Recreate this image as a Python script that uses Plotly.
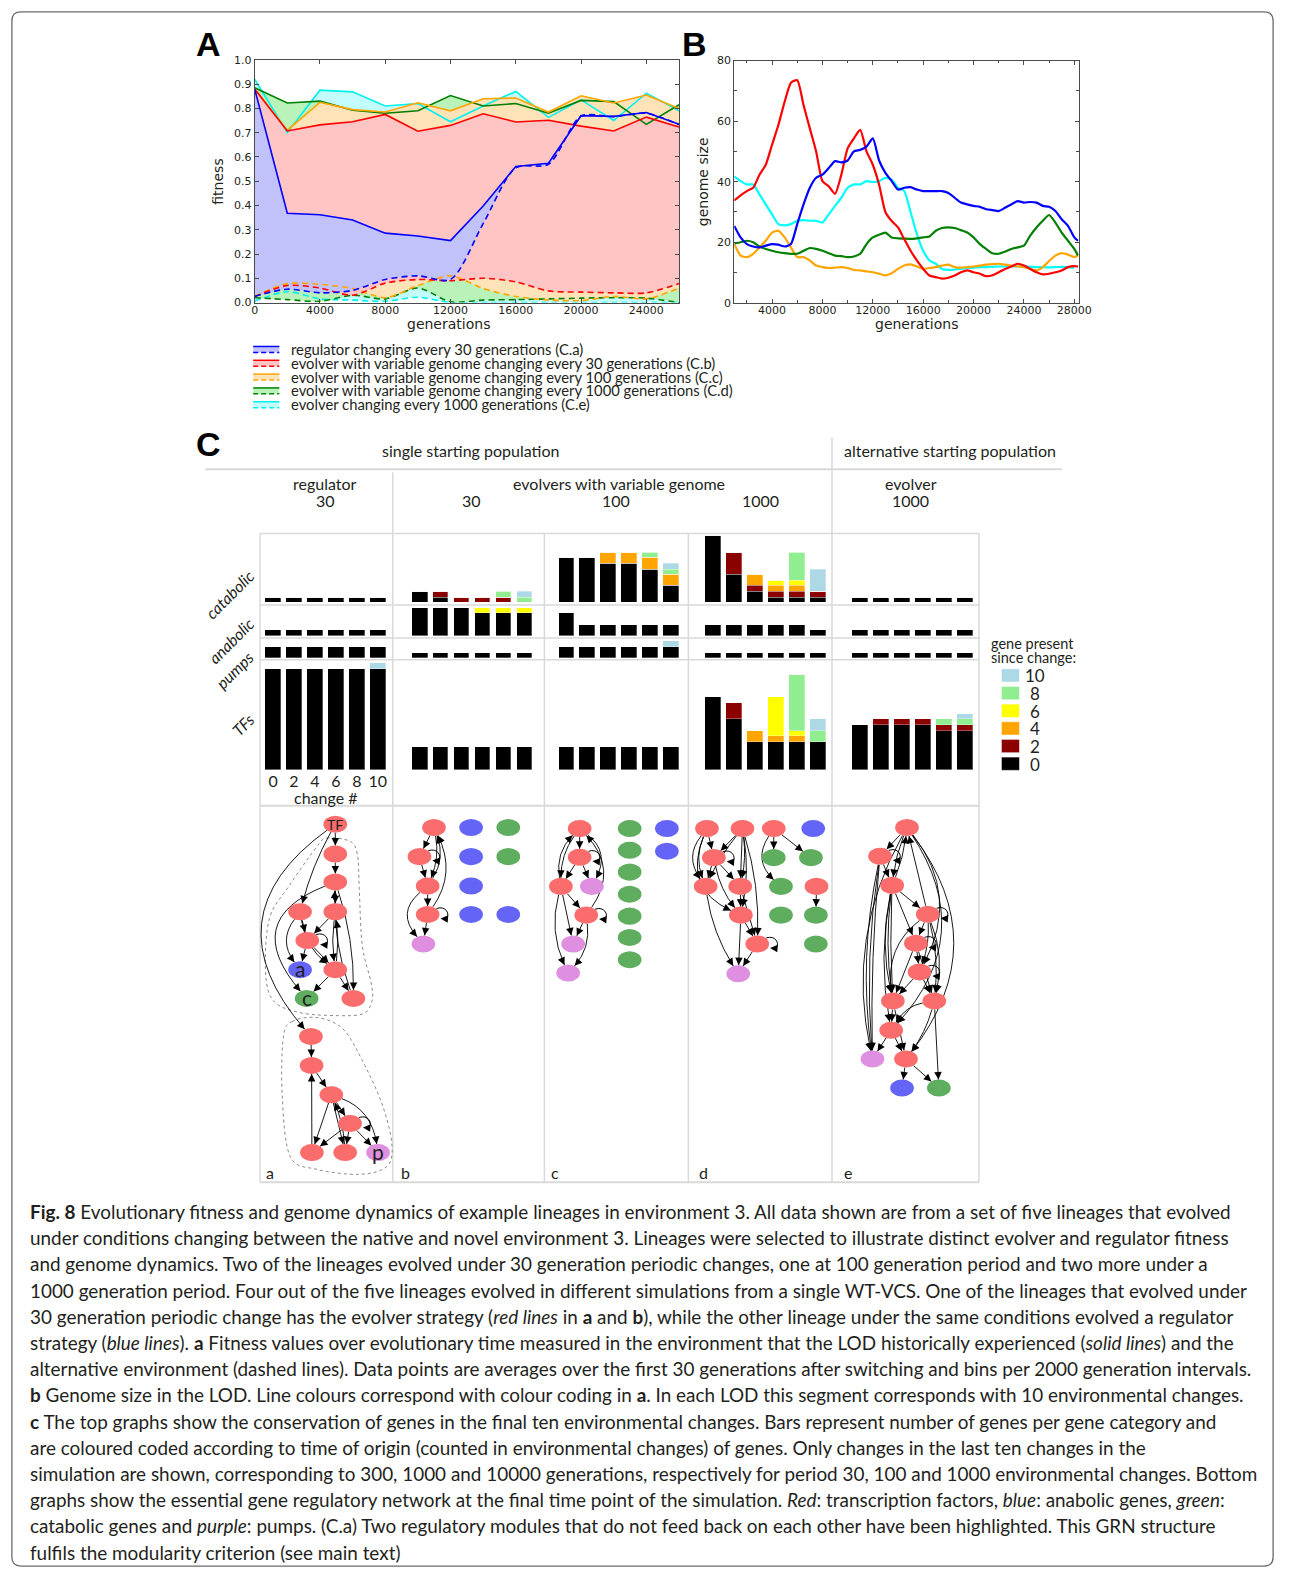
import math
import plotly.graph_objects as go

W, H = 1294, 1579


def PX(x):
    return x / W


def PY(y):
    return 1.0 - y / H


# ---------------- Panel A data (fitness) ----------------
gen_a = [0, 2000, 4000, 6000, 8000, 10000, 12000, 14000, 16000, 18000, 20000, 22000, 24000, 26000]
fit_reg30_env = [0.88, 0.368, 0.362, 0.34, 0.286, 0.274, 0.255, 0.398, 0.561, 0.574, 0.77, 0.767, 0.783, 0.735]
fit_reg30_alt = [0.025, 0.055, 0.04, 0.05, 0.095, 0.11, 0.095, 0.325, 0.555, 0.57, 0.768, 0.766, 0.78, 0.733]
fit_ev30_env = [0.88, 0.707, 0.732, 0.745, 0.775, 0.706, 0.73, 0.778, 0.744, 0.751, 0.727, 0.707, 0.764, 0.723]
fit_ev30_alt = [0.025, 0.07, 0.06, 0.03, 0.08, 0.095, 0.09, 0.1, 0.085, 0.048, 0.043, 0.04, 0.04, 0.078]
fit_ev100_env = [0.88, 0.71, 0.825, 0.795, 0.785, 0.823, 0.79, 0.84, 0.843, 0.785, 0.852, 0.822, 0.855, 0.8]
fit_ev100_alt = [0.025, 0.078, 0.075, 0.058, 0.02, 0.07, 0.11, 0.058, 0.025, 0.01, 0.008, 0.025, 0.015, 0.06]
fit_ev1000_env = [0.885, 0.822, 0.83, 0.792, 0.78, 0.79, 0.853, 0.81, 0.82, 0.78, 0.833, 0.828, 0.734, 0.815]
fit_ev1000_alt = [0.02, 0.012, 0.005, 0.03, 0.015, 0.06, 0.003, 0.01, 0.012, 0.015, 0.018, 0.02, 0.018, 0.0]
fit_evo1000_env = [0.92, 0.70, 0.875, 0.868, 0.81, 0.82, 0.745, 0.81, 0.87, 0.763, 0.835, 0.75, 0.863, 0.79]
fit_evo1000_alt = [0.005, 0.045, 0.015, 0.01, 0.005, 0.022, 0.0, 0.0, 0.0, 0.0, 0.0, 0.0, 0.0, 0.0]

legend_labels = [
    "regulator changing every 30 generations (C.a)",
    "evolver with variable genome changing every 30 generations (C.b)",
    "evolver with variable genome changing every 100 generations (C.c)",
    "evolver with variable genome changing every 1000 generations (C.d)",
    "evolver changing every 1000 generations (C.e)",
]

# ---------------- Panel B data (genome size) ----------------
gen_b = [1000, 1500, 2000, 2500, 3000, 3500, 4000, 4500, 5000, 5500,
         6000, 6500, 7000, 7500, 8000, 8500, 9000, 9500, 10000, 10500,
         11000, 11500, 12000, 12500, 13000, 13500, 14000, 14500, 15000, 15500,
         16000, 16500, 17000, 17500, 18000, 18500, 19000, 19500, 20000, 20500,
         21000, 21500, 22000, 22500, 23000, 23500, 24000, 24500, 25000, 25500,
         26000, 26500, 27000, 27500, 28000, 28300]
size_reg30 = [25.4, 21.6, 19.4, 18.6, 18.3, 18.9, 19.4, 19.2, 18.6, 19.4,
              26.0, 32.5, 38.0, 41.3, 42.3, 44.5, 46.8, 46.4, 47.0, 50.0,
              50.5, 51.6, 54.3, 47.0, 42.9, 40.2, 37.4, 38.0, 38.2, 37.4,
              36.9, 36.9, 36.9, 36.9, 36.3, 34.7, 33.1, 32.5, 32.0, 31.7,
              30.9, 30.6, 30.3, 31.4, 32.5, 33.6, 33.1, 33.3, 33.1, 32.0,
              31.7, 30.3, 27.6, 25.4, 21.6, 20.5]
size_ev30 = [33.8, 35.5, 36.9, 38.0, 42.3, 45.6, 52.2, 58.7, 66.4, 72.7,
             73.5, 65.3, 57.6, 50.0, 40.2, 38.5, 36.0, 42.3, 51.0, 54.3,
             57.1, 50.0, 45.6, 39.0, 30.0, 27.0, 24.9, 21.0, 17.2, 14.0,
             11.2, 9.0, 8.5, 8.0, 8.3, 9.0, 10.1, 10.7, 10.1, 9.6,
             8.8, 9.1, 10.1, 11.2, 12.0, 12.9, 12.3, 11.2, 10.1, 9.4,
             9.6, 10.1, 10.7, 11.8, 12.1, 12.0]
size_ev100 = [19.4, 15.6, 15.1, 16.2, 18.3, 20.5, 23.2, 23.8, 21.6, 18.3,
              15.1, 15.1, 14.0, 12.3, 11.8, 11.5, 11.6, 11.8, 11.5, 10.9,
              10.7, 10.4, 10.1, 9.6, 9.1, 9.8, 11.2, 12.3, 12.7, 12.0,
              11.2, 11.5, 11.8, 12.3, 12.6, 11.8, 11.6, 11.8, 12.0, 12.3,
              12.6, 12.8, 12.9, 12.6, 12.3, 12.0, 11.8, 11.2, 10.7, 11.8,
              13.8, 15.6, 16.4, 15.9, 15.1, 15.6]
size_ev1000 = [19.6, 20.0, 20.5, 20.0, 18.6, 17.8, 17.2, 16.7, 16.4, 16.2,
               16.2, 17.2, 18.1, 17.8, 17.2, 16.4, 15.6, 15.4, 15.1, 15.3,
               16.2, 19.4, 21.6, 22.5, 23.2, 21.6, 21.3, 21.2, 21.1, 21.3,
               21.6, 21.9, 23.8, 24.7, 24.9, 24.7, 24.0, 23.2, 21.6, 19.4,
               17.8, 16.4, 16.2, 16.9, 17.8, 18.3, 18.9, 22.2, 24.9, 27.1,
               29.0, 26.5, 23.2, 20.5, 17.8, 15.6]
size_evo1000 = [41.8, 40.2, 39.1, 39.1, 35.8, 32.5, 29.2, 26.0, 25.6, 26.0,
                27.1, 27.3, 27.1, 27.1, 26.5, 29.2, 32.0, 34.7, 38.0, 39.1,
                39.1, 40.2, 39.9, 40.2, 41.3, 40.7, 38.0, 36.9, 30.0, 22.7,
                17.2, 14.0, 12.9, 11.2, 10.9, 11.0, 11.2, 11.5, 11.6, 11.8,
                11.8, 11.9, 12.0, 12.0, 12.0, 12.0, 12.0, 11.9, 11.8, 11.8,
                11.7, 11.8, 11.9, 11.8, 11.6, None]

# ---------------- Panel C bar data (genes per category, 5 lineages x 6 changes) ----------------
lineage_groups = ["regulator 30", "evolver 30", "evolver 100", "evolver 1000", "evolver e 1000"]
change_ticks = ["0", "2", "4", "6", "8", "10"]
origin_classes = [0, 2, 4, 6, 8, 10]
origin_colors = {0: "#000000", 2: "#8b0000", 4: "#ffa500", 6: "#ffff00", 8: "#90ee90", 10: "#add8e6"}

catabolic = {
    0: [1, 1, 1, 1, 1, 1, 2, 1, 0, 0, 0, 0, 8, 8, 7, 7, 6, 3, 12, 5, 2, 1, 1, 1, 1, 1, 1, 1, 1, 1],
    2: [0, 0, 0, 0, 0, 0, 0, 1, 1, 1, 1, 0, 0, 0, 0, 0, 0, 0, 0, 4, 1, 1, 1, 1, 0, 0, 0, 0, 0, 0],
    4: [0, 0, 0, 0, 0, 0, 0, 0, 0, 0, 0, 0, 0, 0, 2, 2, 2, 2, 0, 0, 2, 1, 1, 0, 0, 0, 0, 0, 0, 0],
    6: [0, 0, 0, 0, 0, 0, 0, 0, 0, 0, 0, 0, 0, 0, 0, 0, 0, 0, 0, 0, 0, 1, 1, 0, 0, 0, 0, 0, 0, 0],
    8: [0, 0, 0, 0, 0, 0, 0, 0, 0, 0, 1, 1, 0, 0, 0, 0, 1, 1, 0, 0, 0, 0, 5, 0, 0, 0, 0, 0, 0, 0],
    10: [0, 0, 0, 0, 0, 0, 0, 0, 0, 0, 0, 1, 0, 0, 0, 0, 0, 1, 0, 0, 0, 0, 0, 4, 0, 0, 0, 0, 0, 0],
}
anabolic = {
    0: [1, 1, 1, 1, 1, 1, 5, 5, 5, 4, 4, 4, 4, 2, 2, 2, 2, 2, 2, 2, 2, 2, 2, 1, 1, 1, 1, 1, 1, 1],
    6: [0, 0, 0, 0, 0, 0, 0, 0, 0, 1, 1, 1, 0, 0, 0, 0, 0, 0, 0, 0, 0, 0, 0, 0, 0, 0, 0, 0, 0, 0],
}
pumps = {
    0: [2, 2, 2, 2, 2, 2, 1, 1, 1, 1, 1, 1, 2, 2, 2, 2, 2, 2, 1, 1, 1, 1, 1, 1, 1, 1, 1, 1, 1, 1],
    10: [0, 0, 0, 0, 0, 0, 0, 0, 0, 0, 0, 0, 0, 0, 0, 0, 0, 1, 0, 0, 0, 0, 0, 0, 0, 0, 0, 0, 0, 0],
}
tfs = {
    0: [18, 18, 18, 18, 18, 18, 4, 4, 4, 4, 4, 4, 4, 4, 4, 4, 4, 4, 13, 9, 5, 5, 5, 5, 8, 8, 8, 8, 7, 7],
    2: [0, 0, 0, 0, 0, 0, 0, 0, 0, 0, 0, 0, 0, 0, 0, 0, 0, 0, 0, 3, 0, 0, 0, 0, 0, 1, 1, 1, 1, 1],
    4: [0, 0, 0, 0, 0, 0, 0, 0, 0, 0, 0, 0, 0, 0, 0, 0, 0, 0, 0, 0, 2, 1, 1, 0, 0, 0, 0, 0, 0, 0],
    6: [0, 0, 0, 0, 0, 0, 0, 0, 0, 0, 0, 0, 0, 0, 0, 0, 0, 0, 0, 0, 0, 7, 1, 0, 0, 0, 0, 0, 0, 0],
    8: [0, 0, 0, 0, 0, 0, 0, 0, 0, 0, 0, 0, 0, 0, 0, 0, 0, 0, 0, 0, 0, 0, 10, 2, 0, 0, 0, 0, 1, 1],
    10: [0, 0, 0, 0, 0, 1, 0, 0, 0, 0, 0, 0, 0, 0, 0, 0, 0, 0, 0, 0, 0, 0, 0, 2, 0, 0, 0, 0, 0, 1],
}

# ---------------- Panel C networks (node layout in figure pixels) ----------------
node_colors = {"tf": "#fb6d6d", "ana": "#6464f7", "cat": "#5fad5f", "pump": "#df8fdf"}

net_a_nodes = {
    "TF": (335.7, 825.0, "tf", "TF"), "n2": (335.7, 855.0, "tf", ""), "n3": (335.7, 883.3, "tf", ""),
    "n4": (300.0, 913.3, "tf", ""), "n5": (335.7, 913.3, "tf", ""), "n6": (307.3, 942.3, "tf", ""),
    "a": (300.0, 971.7, "ana", "a"), "n7": (335.7, 971.7, "tf", ""), "c": (306.7, 1000.7, "cat", "c"),
    "n8": (354.0, 1000.7, "tf", ""), "m1": (311.0, 1039.0, "tf", ""), "m2": (311.7, 1068.3, "tf", ""),
    "m3": (331.7, 1097.7, "tf", ""), "m4": (350.7, 1126.7, "tf", ""), "m5": (312.0, 1156.0, "tf", ""),
    "m6": (345.7, 1156.0, "tf", ""), "p": (379.0, 1156.0, "pump", "p"),
}
net_a_edges = [
    ("TF", "n2", 0), ("n2", "n3", 0), ("n3", "n5", 0), ("TF", "n4", 6), ("n3", "c", 85), ("TF", "m1", 118),
    ("n4", "n6", 0), ("n5", "n6", 0), ("n6", "n6", 0), ("n4", "a", 22), ("n4", "n7", 14), ("n6", "a", 0),
    ("n6", "n7", 0), ("n5", "n7", 4), ("n7", "n5", 4), ("n7", "c", 0), ("n7", "n8", 0), ("n3", "n8", -10),
    ("n8", "n3", -12), ("m1", "m2", 0), ("m2", "m3", 0), ("m3", "m4", 0), ("m4", "m4", 0), ("m3", "m5", 0),
    ("m3", "m6", 0), ("m6", "m3", 5), ("m4", "m5", 0), ("m4", "m6", 0), ("m4", "p", 0), ("m3", "p", -22),
    ("m5", "m2", 0),
]
module_1_outline = [(327, 839), (350, 842), (358, 855), (360, 890), (363, 947), (372, 985), (373, 1003),
                    (364, 1016), (338, 1018), (300, 1015), (273, 1003), (265, 973), (269, 920),
                    (289, 887), (316, 849)]
module_2_outline = [(292, 1024), (317, 1020), (343, 1031), (363, 1063), (383, 1107), (393, 1147),
                    (388, 1170), (360, 1178), (317, 1173), (290, 1160), (282, 1100), (283, 1040)]

net_b_nodes = {
    "b1": (435.7, 828.3, "tf", ""), "b2": (473.3, 828.3, "ana", ""), "b3": (511.0, 828.3, "cat", ""),
    "b4": (421.0, 857.7, "tf", ""), "b5": (473.3, 857.7, "ana", ""), "b6": (511.0, 857.7, "cat", ""),
    "b7": (429.3, 887.3, "tf", ""), "b8": (473.3, 887.3, "ana", ""), "b9": (429.3, 916.0, "tf", ""),
    "b10": (473.3, 916.0, "ana", ""), "b11": (511.0, 916.0, "ana", ""), "b12": (425.0, 945.7, "pump", ""),
}
net_b_edges = [
    ("b1", "b4", 0), ("b1", "b7", -9), ("b7", "b1", 15), ("b4", "b7", 0), ("b4", "b4", 0),
    ("b7", "b9", 0), ("b9", "b1", 26), ("b9", "b9", 0), ("b9", "b12", 0), ("b7", "b12", 30),
]

net_c_nodes = {
    "c1": (583.3, 829.3, "tf", ""), "c4": (583.3, 858.3, "tf", ""), "c5": (564.3, 887.7, "tf", ""),
    "c6": (595.7, 887.7, "pump", ""), "c7": (590.0, 916.7, "tf", ""), "c8": (576.7, 945.7, "pump", ""),
    "c9": (571.7, 975.0, "pump", ""),
    "g1": (634.0, 829.3, "cat", ""), "g2": (634.0, 851.3, "cat", ""), "g3": (634.0, 873.3, "cat", ""),
    "g4": (634.0, 895.7, "cat", ""), "g5": (634.0, 917.7, "cat", ""), "g6": (634.0, 939.3, "cat", ""),
    "g7": (634.0, 961.7, "cat", ""), "k1": (671.7, 829.3, "ana", ""), "k2": (671.7, 852.3, "ana", ""),
}
net_c_edges = [
    ("c1", "c4", 0), ("c1", "c5", 10), ("c5", "c1", -16), ("c4", "c5", 0), ("c4", "c6", 0), ("c4", "c4", 0),
    ("c1", "c6", -25), ("c7", "c1", 36), ("c5", "c7", 0), ("c5", "c8", 0), ("c5", "c9", 16), ("c7", "c8", 0),
    ("c7", "c9", -14), ("c7", "c7", 0),
]

net_d_nodes = {
    "d1": (712.3, 829.3, "tf", ""), "d2": (748.3, 829.3, "tf", ""), "d3": (780.0, 829.3, "tf", ""),
    "d4": (820.0, 829.3, "ana", ""), "d5": (719.3, 858.7, "tf", ""), "d6": (780.0, 858.7, "cat", ""),
    "d7": (817.7, 858.7, "cat", ""), "d8": (711.0, 887.7, "tf", ""), "d9": (746.0, 887.7, "tf", ""),
    "d10": (787.3, 887.7, "cat", ""), "d11": (823.3, 887.7, "tf", ""), "d12": (746.7, 916.7, "tf", ""),
    "d13": (787.3, 916.7, "cat", ""), "d14": (822.7, 916.7, "cat", ""), "d15": (763.3, 945.7, "tf", ""),
    "d16": (822.7, 945.7, "cat", ""), "d17": (744.0, 975.7, "pump", ""),
}
net_d_edges = [
    ("d1", "d5", 0), ("d1", "d8", 12), ("d1", "d8", 22), ("d1", "d12", 45), ("d2", "d5", 0), ("d2", "d9", 0),
    ("d2", "d9", -5), ("d2", "d12", -8), ("d2", "d15", -10), ("d2", "d8", 4), ("d5", "d5", 0), ("d5", "d8", 0),
    ("d5", "d9", 0), ("d5", "d12", 8), ("d9", "d12", 0), ("d9", "d15", 0), ("d12", "d15", 0),
    ("d12", "d17", 0), ("d15", "d17", 0), ("d8", "d17", 10), ("d15", "d15", 0), ("d3", "d6", 0),
    ("d3", "d7", 0), ("d3", "d10", 25), ("d11", "d14", 0),
]

net_e_nodes = {
    "e1": (915.0, 828.3, "tf", ""), "e2": (887.7, 857.3, "tf", ""), "e3": (900.0, 886.7, "tf", ""),
    "e4": (936.0, 915.7, "tf", ""), "e5": (924.0, 945.0, "tf", ""), "e6": (927.7, 974.0, "tf", ""),
    "e7": (900.7, 1003.3, "tf", ""), "e8": (942.7, 1003.3, "tf", ""), "e9": (899.0, 1032.7, "tf", ""),
    "e10": (880.0, 1061.7, "pump", ""), "e11": (914.0, 1061.7, "tf", ""), "e12": (910.0, 1091.0, "ana", ""),
    "e13": (947.3, 1091.0, "cat", ""),
}
net_e_edges = [
    ("e1", "e2", 0), ("e1", "e3", 4), ("e3", "e1", 4), ("e2", "e2", 0), ("e2", "e3", 0),
    ("e2", "e10", 6), ("e2", "e10", 12), ("e2", "e10", 18), ("e1", "e10", 45),
    ("e3", "e4", 0), ("e3", "e5", 0), ("e3", "e7", 3), ("e3", "e7", 8), ("e3", "e7", 13), ("e3", "e9", 14),
    ("e4", "e4", 0), ("e4", "e1", 0), ("e4", "e5", 0), ("e4", "e6", -6), ("e4", "e8", -8), ("e4", "e8", -14),
    ("e4", "e7", 28), ("e5", "e5", 0), ("e5", "e6", 0), ("e5", "e7", 0), ("e5", "e8", 0),
    ("e6", "e6", 0), ("e6", "e7", 0), ("e6", "e8", 0), ("e7", "e9", 0), ("e7", "e11", 0),
    ("e8", "e9", 12), ("e8", "e13", 0), ("e8", "e11", -6), ("e9", "e10", 0), ("e9", "e11", 0),
    ("e1", "e9", -80), ("e1", "e6", -48), ("e1", "e11", -90), ("e11", "e12", 0), ("e11", "e13", 0),
]

caption_lines = [
    "<b>Fig. 8</b> Evolutionary fitness and genome dynamics of example lineages in environment 3. All data shown are from a set of five lineages that evolved",
    "under conditions changing between the native and novel environment 3. Lineages were selected to illustrate distinct evolver and regulator fitness",
    "and genome dynamics. Two of the lineages evolved under 30 generation periodic changes, one at 100 generation period and two more under a",
    "1000 generation period. Four out of the five lineages evolved in different simulations from a single WT-VCS. One of the lineages that evolved under",
    "30 generation periodic change has the evolver strategy (<i>red lines</i> in <b>a</b> and <b>b</b>), while the other lineage under the same conditions evolved a regulator",
    "strategy (<i>blue lines</i>). <b>a</b> Fitness values over evolutionary time measured in the environment that the LOD historically experienced (<i>solid lines</i>) and the",
    "alternative environment (dashed lines). Data points are averages over the first 30 generations after switching and bins per 2000 generation intervals.",
    "<b>b</b> Genome size in the LOD. Line colours correspond with colour coding in <b>a</b>. In each LOD this segment corresponds with 10 environmental changes.",
    "<b>c</b> The top graphs show the conservation of genes in the final ten environmental changes. Bars represent number of genes per gene category and",
    "are coloured coded according to time of origin (counted in environmental changes) of genes. Only changes in the last ten changes in the",
    "simulation are shown, corresponding to 300, 1000 and 10000 generations, respectively for period 30, 100 and 1000 environmental changes. Bottom",
    "graphs show the essential gene regulatory network at the final time point of the simulation. <i>Red</i>: transcription factors, <i>blue</i>: anabolic genes, <i>green</i>:",
    "catabolic genes and <i>purple</i>: pumps. (C.a) Two regulatory modules that do not feed back on each other have been highlighted. This GRN structure",
    "fulfils the modularity criterion (see main text)",
]

# ---------------- Styling ----------------
TXT = "#231f20"
GRID = "#d9d9d9"
CFONT = "Lato"
MPLFONT = "DejaVu Sans"

colA = {"reg30": "#0000ff", "ev30": "#ff0000", "ev100": "#ffa500", "ev1000": "#008000", "evo1000": "#00f0f0"}
fillA = {"reg30": "#c2c2fa", "ev30": "#ffc4c4", "ev100": "#ffe3b8", "ev1000": "#b9f3b9", "evo1000": "#c2fcfc"}
seriesA = {
    "reg30": (fit_reg30_env, fit_reg30_alt), "ev30": (fit_ev30_env, fit_ev30_alt),
    "ev100": (fit_ev100_env, fit_ev100_alt), "ev1000": (fit_ev1000_env, fit_ev1000_alt),
    "evo1000": (fit_evo1000_env, fit_evo1000_alt),
}
order_keys = ["reg30", "ev30", "ev100", "ev1000", "evo1000"]

fig = go.Figure()

# ---- Panel A fills (drawn from highest to lowest so lower ones sit on top) ----
for k in ["evo1000", "ev1000", "ev100", "ev30", "reg30"]:
    env, alt = seriesA[k]
    fig.add_trace(go.Scatter(x=gen_a, y=alt, mode="lines", line=dict(width=0, shape="spline", smoothing=0.8),
                             xaxis="x", yaxis="y", showlegend=False, hoverinfo="skip"))
    fig.add_trace(go.Scatter(x=gen_a, y=env, mode="lines", line=dict(width=0), fill="tonexty",
                             fillcolor=fillA[k], xaxis="x", yaxis="y", showlegend=False, hoverinfo="skip"))
for k in ["evo1000", "ev1000", "ev100", "ev30", "reg30"]:
    env, alt = seriesA[k]
    fig.add_trace(go.Scatter(x=gen_a, y=alt, mode="lines",
                             line=dict(color=colA[k], width=1.6, dash="6px,4px", shape="spline", smoothing=0.8),
                             xaxis="x", yaxis="y", showlegend=False, hoverinfo="skip"))
    fig.add_trace(go.Scatter(x=gen_a, y=env, mode="lines", line=dict(color=colA[k], width=1.6),
                             xaxis="x", yaxis="y", showlegend=False, hoverinfo="skip"))

# ---- Panel B lines ----
seriesB = {"reg30": size_reg30, "ev30": size_ev30, "ev100": size_ev100, "ev1000": size_ev1000,
           "evo1000": size_evo1000}
for k in ["evo1000", "ev100", "ev1000", "ev30", "reg30"]:
    fig.add_trace(go.Scatter(x=gen_b, y=seriesB[k], mode="lines",
                             line=dict(color=colA[k] if k != "evo1000" else "#00ffff", width=2.2,
                                       shape="spline", smoothing=0.6),
                             xaxis="x2", yaxis="y2", showlegend=False, hoverinfo="skip", connectgaps=False))

# ---- Panel C bars ----
bar_x = [g * 7 + i for g in range(len(lineage_groups)) for i in range(6)]
rows = [("x3", "y3", catabolic), ("x4", "y4", anabolic), ("x5", "y5", pumps), ("x6", "y6", tfs)]
for xa, ya, data in rows:
    for cls in origin_classes:
        if cls not in data:
            continue
        fig.add_trace(go.Bar(x=bar_x, y=data[cls], width=0.75, marker=dict(color=origin_colors[cls],
                             line=dict(color="rgba(255,255,255,0.5)", width=0.6)),
                             xaxis=xa, yaxis=ya, showlegend=False, hoverinfo="skip"))

# ---------------- Axes ----------------
G = 5.65  # pixels per gene
row_px = [(532.0, 601.7), (604.0, 635.0), (637.3, 657.7), (659.3, 770.0)]
slot_px0, slot_w = 272.6, 21.24
xr = [(259.5 - slot_px0) / slot_w, (988.0 - slot_px0) / slot_w]

axis_common = dict(showgrid=False, zeroline=False, showline=True, linecolor="#4a4a4a", linewidth=1,
                   mirror="ticks", ticks="inside", ticklen=4, tickcolor="#4a4a4a",
                   tickfont=dict(family=MPLFONT, size=11, color=TXT))
layout = dict(
    width=W, height=H, margin=dict(l=0, r=0, t=0, b=0), paper_bgcolor="white", plot_bgcolor="rgba(0,0,0,0)",
    barmode="stack", bargap=0, showlegend=False, font=dict(family=CFONT, color=TXT),
    xaxis=dict(domain=[PX(254), PX(684)], anchor="y", range=[0, 26000], tick0=0, dtick=4000, tickformat="d",
               ticklabelstandoff=-3, **axis_common),
    yaxis=dict(domain=[PY(299), PY(54.3)], anchor="x", range=[0, 1], dtick=0.1, tickformat=".1f", **axis_common),
    xaxis2=dict(domain=[PX(740), PX(1089)], anchor="y2", range=[1000, 28350], tick0=0, dtick=4000,
                tickformat="d", ticklabelstandoff=-3,
                minor=dict(dtick=2000, tick0=0, ticks="inside", ticklen=2.5, tickcolor="#4a4a4a"), **axis_common),
    yaxis2=dict(domain=[PY(299.3), PY(55)], anchor="x2", range=[0, 80], dtick=20,
                minor=dict(dtick=10, tick0=0, ticks="inside", ticklen=2.5, tickcolor="#4a4a4a"), **axis_common),
)
for idx, (top, base) in enumerate(row_px):
    n = idx + 3
    layout[f"xaxis{n}"] = dict(domain=[PX(259.5), PX(988)], anchor=f"y{n}", range=xr, showgrid=False,
                               zeroline=False, showline=False, showticklabels=(n == 6), ticks="",
                               tickvals=list(range(6)) if n == 6 else None,
                               ticktext=change_ticks if n == 6 else None,
                               tickfont=dict(family=CFONT, size=16, color=TXT))
    layout[f"yaxis{n}"] = dict(domain=[PY(base), PY(top)], anchor=f"x{n}", range=[0, (base - top) / G],
                               showgrid=False, zeroline=False, showline=False, showticklabels=False, ticks="")

shapes = []
annotations = []


def line_shape(x0, y0, x1, y1, color=GRID, width=1.5, dash=None):
    d = dict(type="line", xref="paper", yref="paper", x0=PX(x0), y0=PY(y0), x1=PX(x1), y1=PY(y1),
             line=dict(color=color, width=width))
    if dash:
        d["line"]["dash"] = dash
    shapes.append(d)


def text(x, y, s, size=15, family=CFONT, color=TXT, angle=0, xanchor="center", yanchor="middle"):
    annotations.append(dict(x=PX(x), y=PY(y), xref="paper", yref="paper", text=s, showarrow=False,
                            font=dict(family=family, size=size, color=color), textangle=angle,
                            xanchor=xanchor, yanchor=yanchor, borderpad=0))


# ---- Figure border (rounded) ----
bx0, by0, bx1, by1, r = 8, 6, 1286, 1573, 9
border = (f"M {PX(bx0 + r)},{PY(by0)} L {PX(bx1 - r)},{PY(by0)} Q {PX(bx1)},{PY(by0)} {PX(bx1)},{PY(by0 + r)} "
          f"L {PX(bx1)},{PY(by1 - r)} Q {PX(bx1)},{PY(by1)} {PX(bx1 - r)},{PY(by1)} "
          f"L {PX(bx0 + r)},{PY(by1)} Q {PX(bx0)},{PY(by1)} {PX(bx0)},{PY(by1 - r)} "
          f"L {PX(bx0)},{PY(by0 + r)} Q {PX(bx0)},{PY(by0)} {PX(bx0 + r)},{PY(by0)} Z")
shapes.append(dict(type="path", xref="paper", yref="paper", path=border, line=dict(color="#6b6b6b", width=1.3)))

# ---- Panel labels ----
text(207, 38, "<b>A</b>", size=34, family="Liberation Sans", color="#000")
text(700, 38, "<b>B</b>", size=34, family="Liberation Sans", color="#000")
text(207, 442, "<b>C</b>", size=34, family="Liberation Sans", color="#000")

# ---- Axis titles A/B ----
text(216, 177, "fitness", size=14, family=MPLFONT, angle=-90)
text(450, 321, "generations", size=14, family=MPLFONT)
text(708, 177, "genome size", size=14, family=MPLFONT, angle=-90)
text(925, 321, "generations", size=14, family=MPLFONT)

# ---- Legend of A ----
for i, k in enumerate(order_keys):
    ys = 343.3 + i * 13.93
    shapes.append(dict(type="rect", xref="paper", yref="paper", x0=PX(252.5), x1=PX(279), y0=PY(ys + 6),
                       y1=PY(ys), fillcolor=fillA[k], line=dict(width=0)))
    line_shape(252.5, ys, 279, ys, color=colA[k], width=1.5)
    line_shape(252.5, ys + 6, 279, ys + 6, color=colA[k], width=1.5, dash="5px,3px")
    text(290, ys + 2.5, legend_labels[i], size=14.8, xanchor="left")

# ---- Panel C headers ----
text(473, 448, "single starting population", size=16)
text(959, 448, "alternative starting population", size=16)
text(325.5, 481, "regulator", size=16)
text(325.5, 499, "30", size=16)
text(623, 481, "evolvers with variable genome", size=16)
text(474, 499, "30", size=16)
text(620.5, 499, "100", size=16)
text(767, 499, "1000", size=16)
text(919, 481, "evolver", size=16)
text(919, 499, "1000", size=16)
text(325.5, 798, "change #", size=16)

# row labels
text(228, 593, "<i>catabolic</i>", size=16, angle=-45)
text(230, 640, "<i>anabolic</i>", size=16, angle=-45)
text(234, 669, "<i>pumps</i>", size=16, angle=-45)
text(242, 724, "<i>TFs</i>", size=16, angle=-45)

# network labels
for lbl, x in zip(["a", "b", "c", "d", "e"], [270, 406.5, 558.5, 709, 855.7]):
    text(x, 1176, lbl, size=16)

# grid lines
line_shape(204, 467, 1072, 467, width=2)
line_shape(839, 435, 839, 1186)
line_shape(394, 470, 394, 1186)
for xv in [259.5, 547.6, 693.5, 988]:
    line_shape(xv, 532, xv, 1186)
for yv in [532, 604, 637.3, 659.3, 806.5, 1186]:
    line_shape(259.5, yv, 988, yv, width=2 if yv in (806.5, 1186) else 1.5)

# legend of C
text(999, 643, "gene present", size=14.5, xanchor="left")
text(999, 657, "since change:", size=14.5, xanchor="left")
for i, cls in enumerate(reversed(origin_classes)):
    y0 = 668.3 + i * 17.8
    shapes.append(dict(type="rect", xref="paper", yref="paper", x0=PX(1010.7), x1=PX(1029), y0=PY(y0 + 13.4),
                       y1=PY(y0), fillcolor=origin_colors[cls], line=dict(color="white", width=0.5)))
    text(1045, y0 + 7, str(cls), size=17)


# ---------------- Network drawing ----------------
RX, RY = 12.0, 8.6


def unit(dx, dy):
    L = math.hypot(dx, dy) or 1.0
    return dx / L, dy / L


def boundary(c, toward):
    ux, uy = unit(toward[0] - c[0], toward[1] - c[1])
    rr = 1.0 / math.sqrt((ux / RX) ** 2 + (uy / RY) ** 2)
    return c[0] + ux * rr, c[1] + uy * rr


def arrowhead(tip, tail_dir):
    tx, ty = unit(*tail_dir)
    annotations.append(dict(x=PX(tip[0]), y=PY(tip[1]), xref="paper", yref="paper", ax=tx * 7, ay=ty * 7,
                            axref="pixel", ayref="pixel", text="", showarrow=True, arrowhead=2,
                            arrowsize=1.5, arrowwidth=1, arrowcolor="black", standoff=0, startstandoff=0))


def draw_network(nodes, edges):
    for s, t, bend in edges:
        ps = nodes[s]
        if s == t:
            x, y = ps[0], ps[1]
            p0 = (x + 9, y - 6)
            p1 = (x + 13, y + 4)
            path = (f"M {PX(p0[0])},{PY(p0[1])} C {PX(x + 21)},{PY(y - 10)} {PX(x + 24)},{PY(y + 5)} "
                    f"{PX(p1[0] + 3)},{PY(p1[1])}")
            shapes.append(dict(type="path", xref="paper", yref="paper", path=path,
                               line=dict(color="black", width=1)))
            arrowhead(p1, (6, 0.5))
            continue
        pt = nodes[t]
        p = (ps[0], ps[1])
        q = (pt[0], pt[1])
        ux, uy = unit(q[0] - p[0], q[1] - p[1])
        mx, my = (p[0] + q[0]) / 2, (p[1] + q[1]) / 2
        ctrl = (mx - uy * bend, my + ux * bend)
        a = boundary(p, ctrl if bend else q)
        b = boundary(q, ctrl if bend else p)
        if bend:
            path = f"M {PX(a[0])},{PY(a[1])} Q {PX(ctrl[0])},{PY(ctrl[1])} {PX(b[0])},{PY(b[1])}"
            tail = (ctrl[0] - b[0], ctrl[1] - b[1])
        else:
            path = f"M {PX(a[0])},{PY(a[1])} L {PX(b[0])},{PY(b[1])}"
            tail = (p[0] - b[0], p[1] - b[1])
        shapes.append(dict(type="path", xref="paper", yref="paper", path=path, line=dict(color="black", width=0.9)))
        arrowhead(b, tail)


def smooth_closed(pts):
    n = len(pts)
    d = f"M {PX(pts[0][0])},{PY(pts[0][1])}"
    for i in range(n):
        p0, p1, p2, p3 = pts[i - 1], pts[i], pts[(i + 1) % n], pts[(i + 2) % n]
        c1 = (p1[0] + (p2[0] - p0[0]) / 6, p1[1] + (p2[1] - p0[1]) / 6)
        c2 = (p2[0] - (p3[0] - p1[0]) / 6, p2[1] - (p3[1] - p1[1]) / 6)
        d += f" C {PX(c1[0])},{PY(c1[1])} {PX(c2[0])},{PY(c2[1])} {PX(p2[0])},{PY(p2[1])}"
    return d + " Z"


for outline in (module_1_outline, module_2_outline):
    shapes.append(dict(type="path", xref="paper", yref="paper", path=smooth_closed(outline),
                       line=dict(color="#8a8a8a", width=1, dash="dot")))

networks = [(net_a_nodes, net_a_edges), (net_b_nodes, net_b_edges), (net_c_nodes, net_c_edges),
            (net_d_nodes, net_d_edges), (net_e_nodes, net_e_edges)]
for nodes, edges in networks:
    draw_network(nodes, edges)
for nodes, edges in networks:
    for key, (x, y, kind, lab) in nodes.items():
        shapes.append(dict(type="circle", xref="paper", yref="paper", x0=PX(x - RX), x1=PX(x + RX),
                           y0=PY(y + RY), y1=PY(y - RY), fillcolor=node_colors[kind], line=dict(width=0)))
        if lab:
            text(x, y + (0 if lab == "TF" else -1), lab, size=14 if lab == "TF" else 21, color="#222")

# ---------------- Caption ----------------
for i, s in enumerate(caption_lines):
    text(25, 1215.5 + i * 26.42, s, size=18.9, family=CFONT, xanchor="left")

layout["shapes"] = shapes
layout["annotations"] = annotations
fig.update_layout(**layout)
fig.write_html("out.html")
